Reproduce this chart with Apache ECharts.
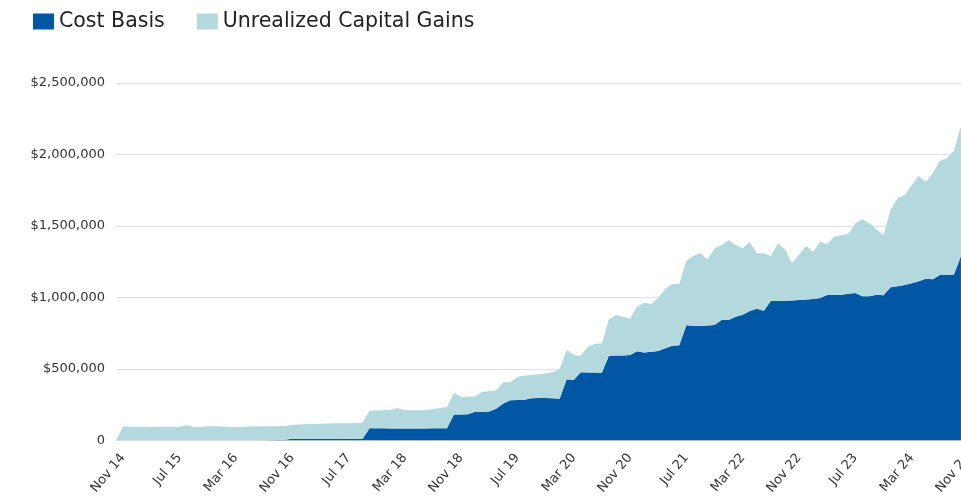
<!DOCTYPE html>
<html>
<head>
<meta charset="utf-8">
<script src="https://cdn.jsdelivr.net/npm/echarts@6/dist/echarts.min.js"></script>
<style>
  html, body { margin: 0; padding: 0; background: #fff; }
  #chart { width: 961px; height: 501px; }
</style>
</head>
<body>
<div id="chart"></div>
<script>
// monthly points, Oct 14 .. Nov 24 (last month falls just past the right edge)
var months = [];
var monNames = ['Jan','Feb','Mar','Apr','May','Jun','Jul','Aug','Sep','Oct','Nov','Dec'];
for (var y = 14; y <= 24; y++) {
    for (var m = 0; m < 12; m++) {
        if (y === 14 && m < 9) continue;
        if (y === 24 && m > 10) continue;
        months.push(monNames[m] + ' ' + y);
    }
}

var costBasis = [
    0, 0, 0, 0, 0, 0, 0, 0, 0, 0,
    0, 0, 0, 0, 0, 0, 0, 0, 0, 0,
    0, 0, 1000, 3000, 6000, 12000, 12000, 12000, 12000, 12000,
    12000, 12000, 12000, 11000, 11000, 11000, 85000, 85000, 85000, 84000,
    84000, 84000, 84000, 84000, 84000, 85000, 85000, 85000, 182000, 181000,
    183000, 201000, 201000, 202000, 222000, 258000, 282000, 284000, 285000, 295000,
    297000, 297000, 295000, 292000, 428000, 423000, 477000, 476000, 475000, 474000,
    593000, 594000, 595000, 598000, 624000, 616000, 620000, 626000, 645000, 663000,
    666000, 806000, 803000, 801000, 805000, 808000, 843000, 843000, 866000, 880000,
    905000, 922000, 908000, 975000, 978000, 978000, 979000, 982000, 986000, 990000,
    996000, 1018000, 1018000, 1020000, 1026000, 1032000, 1008000, 1008000, 1020000, 1016000,
    1071000, 1079000, 1087000, 1100000, 1113000, 1131000, 1127000, 1157000, 1157000, 1160000,
    1290000, '-'
];

var unrealizedGains = [
    0, 98000, 96000, 95000, 96000, 95000, 97000, 96000, 97000, 96000,
    108000, 95000, 94000, 99000, 100000, 98000, 97000, 92000, 97000, 98000,
    99000, 100000, 99000, 97000, 95000, 98000, 100000, 101000, 104000, 106000,
    107000, 108000, 108000, 110000, 111000, 114000, 123000, 124000, 126000, 131000,
    143000, 127000, 127000, 128000, 128000, 135000, 143000, 149000, 152000, 125000,
    123000, 109000, 139000, 143000, 130000, 150000, 125000, 162000, 167000, 163000,
    167000, 173000, 182000, 208000, 205000, 175000, 116000, 180000, 200000, 206000,
    255000, 284000, 271000, 256000, 312000, 348000, 335000, 374000, 415000, 431000,
    428000, 451000, 489000, 508000, 462000, 536000, 524000, 559000, 501000, 464000,
    485000, 387000, 401000, 315000, 401000, 359000, 260000, 318000, 374000, 330000,
    394000, 356000, 407000, 415000, 418000, 487000, 539000, 511000, 457000, 421000,
    541000, 615000, 630000, 687000, 737000, 679000, 742000, 800000, 816000, 867000,
    910000, '-'
];

var chart = echarts.init(document.getElementById('chart'));

function areaSeries(name, data, color) {
    return {
        name: name,
        type: 'line',
        stack: 'total',
        data: data,
        symbol: 'none',
        lineStyle: { width: 0 },
        areaStyle: { color: color, opacity: 1 },
        itemStyle: { color: color },
        emphasis: { disabled: true }
    };
}

chart.setOption({
    animation: false,
    textStyle: { fontFamily: 'DejaVu Sans' },
    legend: {
        left: 28,
        top: 6,
        itemWidth: 21,
        itemHeight: 16,
        itemGap: 32,
        icon: 'rect',
        textStyle: { fontSize: 20.5, color: '#222', fontFamily: 'DejaVu Sans' },
        data: ['Cost Basis', 'Unrealized Capital Gains']
    },
    grid: { left: 116, right: -7, top: 83, bottom: 60.5, outerBoundsMode: 'none', containLabel: false },
    xAxis: {
        type: 'category',
        boundaryGap: false,
        data: months,
        axisLine: { show: false },
        axisTick: { show: false },
        axisLabel: {
            interval: function (idx) { return (idx - 1) % 8 === 0; },
            rotate: 50,
            margin: 15,
            fontSize: 13,
            color: '#333',
            hideOverlap: false
        }
    },
    yAxis: {
        type: 'value',
        min: 0,
        max: 2500000,
        interval: 500000,
        axisLine: { show: false },
        axisTick: { show: false },
        axisLabel: {
            margin: 11,
            fontSize: 13,
            color: '#333',
            formatter: function (v) {
                return v === 0 ? '0' : '$' + v.toLocaleString('en-US');
            }
        },
        splitLine: { lineStyle: { color: '#dde0e4', width: 1 } }
    },
    series: [
        areaSeries('Cost Basis', costBasis, '#0157a4'),
        areaSeries('Unrealized Capital Gains', unrealizedGains, '#b3d9de')
    ]
});
</script>
</body>
</html>
